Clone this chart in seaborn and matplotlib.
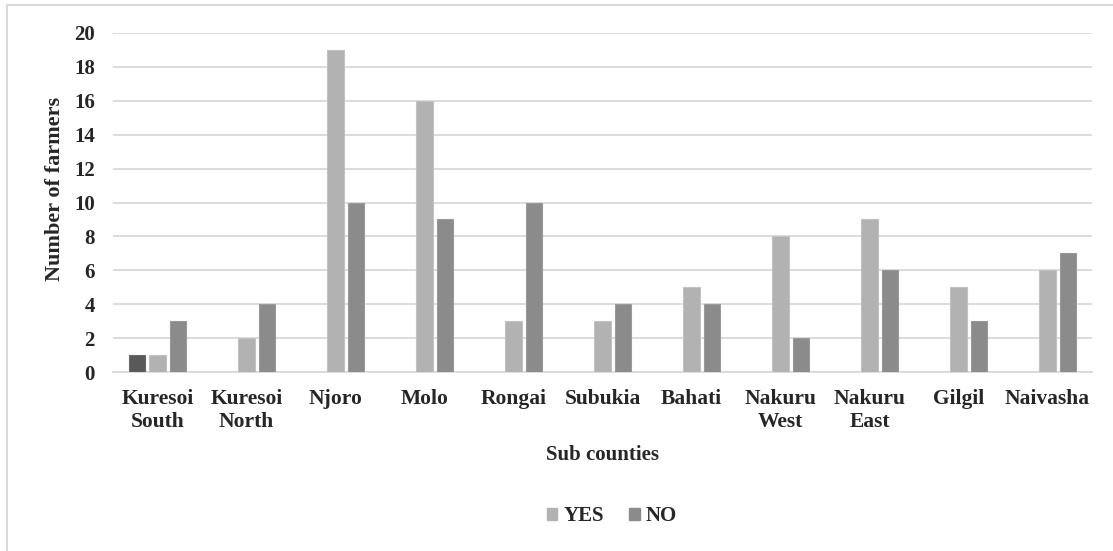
import matplotlib
matplotlib.use("Agg")
import matplotlib.pyplot as plt
from matplotlib.patches import Patch, Rectangle
import pandas as pd
import seaborn as sns

# Sub counties and farmer counts per response
sub_counties = ["Kuresoi\nSouth", "Kuresoi\nNorth", "Njoro", "Molo", "Rongai", "Subukia",
                "Bahati", "Nakuru\nWest", "Nakuru\nEast", "Gilgil", "Naivasha"]
yes_counts = [1, 2, 19, 16, 3, 3, 5, 8, 9, 5, 6]
no_counts = [3, 4, 10, 9, 10, 4, 4, 2, 6, 3, 7]
# extra unlabelled series that only has a value for Kuresoi South
series1_counts = [1, None, None, None, None, None, None, None, None, None, None]

y_ticks = list(range(0, 21, 2))

rows = []
for name, vals in [("Series1", series1_counts), ("YES", yes_counts), ("NO", no_counts)]:
    for sc, v in zip(sub_counties, vals):
        if v is not None:
            rows.append({"Sub county": sc, "Response": name, "Farmers": v})
df = pd.DataFrame(rows)

sns.set_theme(style="white")
plt.rcParams["font.family"] = ["Liberation Serif", "DejaVu Serif"]
plt.rcParams["font.weight"] = "bold"

colors = {"Series1": "#595959", "YES": "#b2b2b2", "NO": "#8b8b8b"}
edges = {"Series1": "#6a6a6a", "YES": "#c2c2c2", "NO": "#9a9a9a"}

fig = plt.figure(figsize=(11.13, 5.51), dpi=100)
ax = fig.add_axes([113 / 1113, 179 / 551, (1092 - 113) / 1113, (372 - 33) / 551])

sns.barplot(data=df, x="Sub county", y="Farmers", hue="Response",
            order=sub_counties, hue_order=["Series1", "YES", "NO"],
            palette=colors, width=0.675, gap=0.2, errorbar=None,
            legend=False, ax=ax, zorder=3)

# thin lighter outline on every bar
for container, key in zip(ax.containers, ["Series1", "YES", "NO"]):
    for bar in container:
        bar.set_edgecolor(edges[key])
        bar.set_linewidth(0.8)

ax.set_ylim(0, 20)
ax.set_xlim(-0.5, len(sub_counties) - 0.5)
ax.set_yticks(y_ticks)
ax.yaxis.grid(True, color="#d9d9d9", linewidth=1.3, zorder=0)
ax.set_axisbelow(True)
for side in ["top", "right", "left"]:
    ax.spines[side].set_visible(False)
ax.spines["bottom"].set_color("#d9d9d9")
ax.spines["bottom"].set_linewidth(1.3)

ax.tick_params(axis="y", length=0, pad=13, labelsize=15)
ax.tick_params(axis="x", length=0, pad=12.5, labelsize=15.5)
for lab in ax.get_xticklabels() + ax.get_yticklabels():
    lab.set_fontweight("bold")
    lab.set_linespacing(1.15)

ax.set_xlabel("Sub counties", fontsize=15, fontweight="bold", labelpad=10)
ax.set_ylabel("Number of farmers", fontsize=16, fontweight="bold")
ax.yaxis.set_label_coords(55 / 1113, 1 - 189 / 551, transform=fig.transFigure)
ax.yaxis.label.set_verticalalignment("center")

handles = [Patch(facecolor=colors["YES"], edgecolor=colors["YES"]),
           Patch(facecolor=colors["NO"], edgecolor=colors["NO"])]
fig.legend(handles, ["YES", "NO"], loc="center", bbox_to_anchor=(612 / 1113, 1 - 516 / 551),
           ncol=2, frameon=False, prop={"size": 15, "weight": "bold"},
           handlelength=0.5, handleheight=0.5, handletextpad=0.3, columnspacing=1.2)

# outer chart frame
fig.patches.append(Rectangle((7 / 1113, -0.1), 1.2, 1.1 - 5 / 551,
                             transform=fig.transFigure, fill=False,
                             edgecolor="#d9d9d9", linewidth=1.5))

fig.savefig("out.png", dpi=100)
